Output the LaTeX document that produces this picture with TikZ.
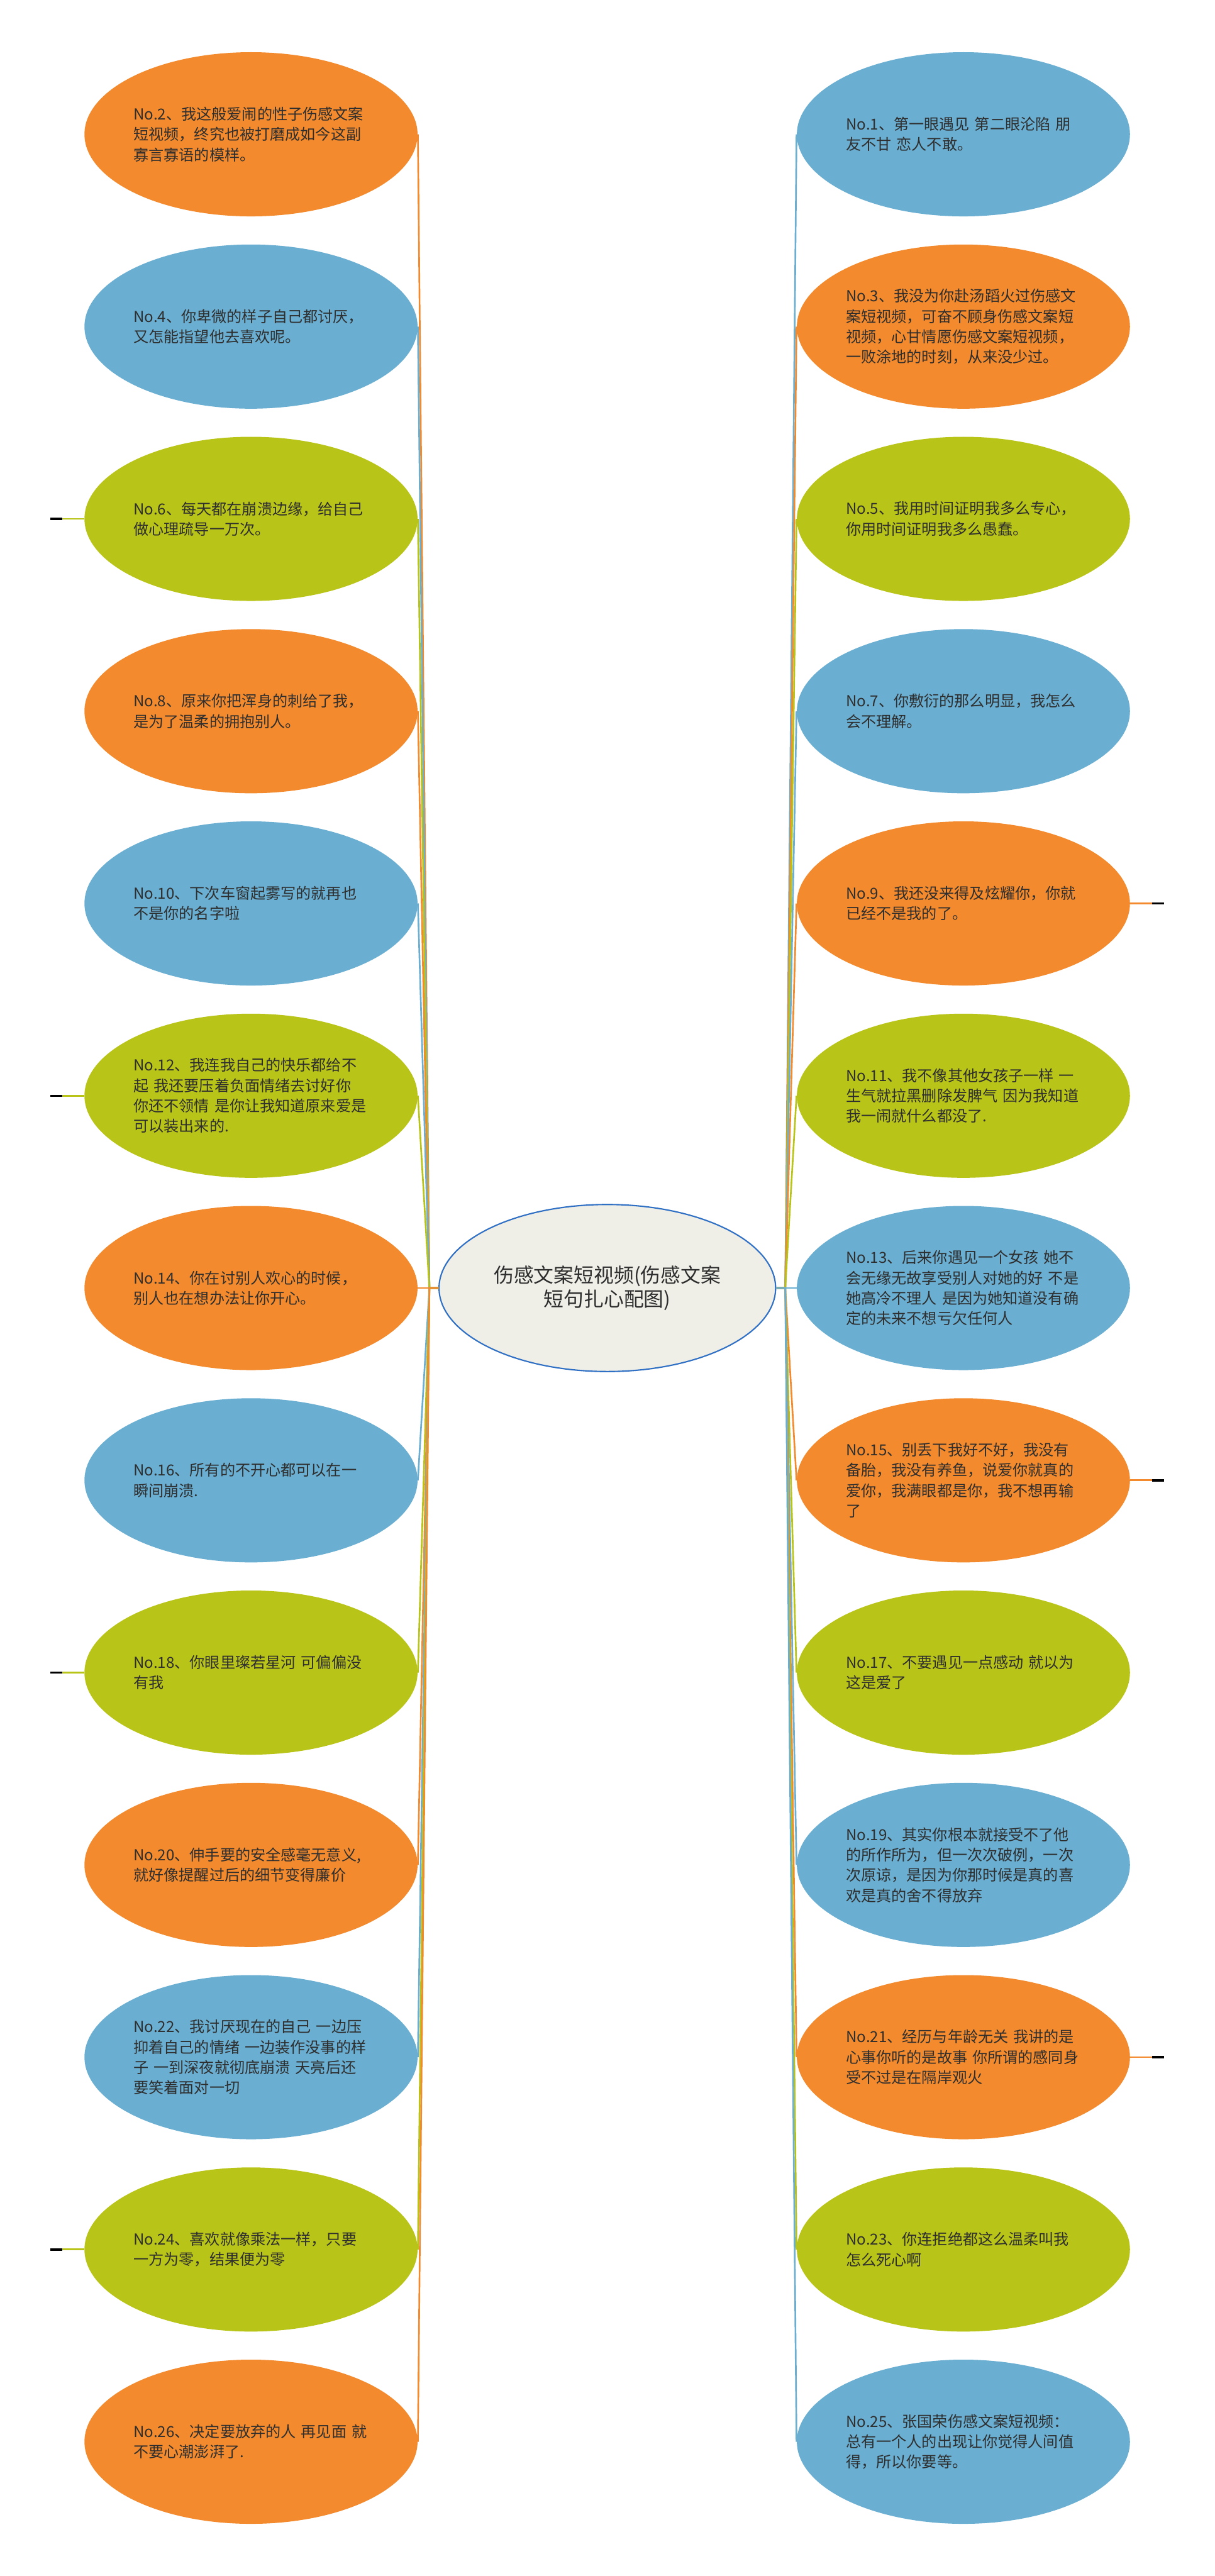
\documentclass[tikz,border=0pt]{standalone}
\usepackage{fontspec}
\newfontfamily\cjkfont{Noto Sans CJK SC}
\usetikzlibrary{shapes.geometric}
\definecolor{leaforange}{HTML}{F38A2D}
\definecolor{leafblue}{HTML}{6AAED1}
\definecolor{leafgreen}{HTML}{B9C419}
\definecolor{inktext}{HTML}{2E2E2E}
\definecolor{rootfill}{HTML}{EFEFE8}
\definecolor{rootline}{HTML}{3070C4}

\begin{document}
\begin{tikzpicture}[
    every node/.style={font=\cjkfont\fontsize{9.1pt}{12.2pt}\selectfont, text=inktext},
    leaf/.style={ellipse, minimum width=7.02cm, minimum height=3.46cm,
      inner sep=0pt, text width=4.95cm, align=left},
    link/.style={line width=1pt},
    stub/.style={line width=1.3pt, black}]
  \useasboundingbox (0,0) rectangle (25.6,-54.29);
  % centre
  \node[ellipse, draw=rootline, line width=0.8pt, fill=rootfill, minimum width=7.05cm,
    minimum height=3.52cm, align=center, font=\cjkfont\fontsize{12pt}{14.6pt}\selectfont]
    (root) at (12.8,-27.145) {伤感文案短视频(伤感文案\\短句扎心配图)};
  \coordinate (lj) at (9.05,-27.145); \coordinate (rj) at (16.55,-27.145);
  % left column
  \node[leaf, fill=leaforange] (n2) at (5.29,-2.83) {No.2、我这般爱闹的性子伤感文案\\短视频，终究也被打磨成如今这副\\寡言寡语的模样。};
  \node[leaf, fill=leafblue] (n4) at (5.29,-6.883) {No.4、你卑微的样子自己都讨厌，\\又怎能指望他去喜欢呢。};
  \node[leaf, fill=leafgreen] (n6) at (5.29,-10.935) {No.6、每天都在崩溃边缘，给自己\\做心理疏导一万次。};
  \node[leaf, fill=leaforange] (n8) at (5.29,-14.988) {No.8、原来你把浑身的刺给了我，\\是为了温柔的拥抱别人。};
  \node[leaf, fill=leafblue] (n10) at (5.29,-19.04) {No.10、下次车窗起雾写的就再也\\不是你的名字啦};
  \node[leaf, fill=leafgreen] (n12) at (5.29,-23.093) {No.12、我连我自己的快乐都给不\\起 我还要压着负面情绪去讨好你\\你还不领情 是你让我知道原来爱是\\可以装出来的.};
  \node[leaf, fill=leaforange] (n14) at (5.29,-27.145) {No.14、你在讨别人欢心的时候，\\别人也在想办法让你开心。};
  \node[leaf, fill=leafblue] (n16) at (5.29,-31.198) {No.16、所有的不开心都可以在一\\瞬间崩溃.};
  \node[leaf, fill=leafgreen] (n18) at (5.29,-35.25) {No.18、你眼里璨若星河 可偏偏没\\有我};
  \node[leaf, fill=leaforange] (n20) at (5.29,-39.303) {No.20、伸手要的安全感毫无意义,\\就好像提醒过后的细节变得廉价};
  \node[leaf, fill=leafblue] (n22) at (5.29,-43.355) {No.22、我讨厌现在的自己 一边压\\抑着自己的情绪 一边装作没事的样\\子 一到深夜就彻底崩溃 天亮后还\\要笑着面对一切};
  \node[leaf, fill=leafgreen] (n24) at (5.29,-47.408) {No.24、喜欢就像乘法一样，只要\\一方为零，结果便为零};
  \node[leaf, fill=leaforange] (n26) at (5.29,-51.46) {No.26、决定要放弃的人 再见面 就\\不要心潮澎湃了.};
  % right column
  \node[leaf, fill=leafblue] (n1) at (20.305,-2.83) {No.1、第一眼遇见 第二眼沦陷 朋\\友不甘 恋人不敢。};
  \node[leaf, fill=leaforange] (n3) at (20.305,-6.883) {No.3、我没为你赴汤蹈火过伤感文\\案短视频，可奋不顾身伤感文案短\\视频，心甘情愿伤感文案短视频，\\一败涂地的时刻，从来没少过。};
  \node[leaf, fill=leafgreen] (n5) at (20.305,-10.935) {No.5、我用时间证明我多么专心，\\你用时间证明我多么愚蠢。};
  \node[leaf, fill=leafblue] (n7) at (20.305,-14.988) {No.7、你敷衍的那么明显，我怎么\\会不理解。};
  \node[leaf, fill=leaforange] (n9) at (20.305,-19.04) {No.9、我还没来得及炫耀你，你就\\已经不是我的了。};
  \node[leaf, fill=leafgreen] (n11) at (20.305,-23.093) {No.11、我不像其他女孩子一样 一\\生气就拉黑删除发脾气 因为我知道\\我一闹就什么都没了.};
  \node[leaf, fill=leafblue] (n13) at (20.305,-27.145) {No.13、后来你遇见一个女孩 她不\\会无缘无故享受别人对她的好 不是\\她高冷不理人 是因为她知道没有确\\定的未来不想亏欠任何人};
  \node[leaf, fill=leaforange] (n15) at (20.305,-31.198) {No.15、别丢下我好不好，我没有\\备胎，我没有养鱼，说爱你就真的\\爱你，我满眼都是你，我不想再输\\了};
  \node[leaf, fill=leafgreen] (n17) at (20.305,-35.25) {No.17、不要遇见一点感动 就以为\\这是爱了};
  \node[leaf, fill=leafblue] (n19) at (20.305,-39.303) {No.19、其实你根本就接受不了他\\的所作所为，但一次次破例，一次\\次原谅，是因为你那时候是真的喜\\欢是真的舍不得放弃};
  \node[leaf, fill=leaforange] (n21) at (20.305,-43.355) {No.21、经历与年龄无关 我讲的是\\心事你听的是故事 你所谓的感同身\\受不过是在隔岸观火};
  \node[leaf, fill=leafgreen] (n23) at (20.305,-47.408) {No.23、你连拒绝都这么温柔叫我\\怎么死心啊};
  \node[leaf, fill=leafblue] (n25) at (20.305,-51.46) {No.25、张国荣伤感文案短视频：\\总有一个人的出现让你觉得人间值\\得，所以你要等。};
  % links, left
  \draw[link, leaforange] (root.west) -- (lj) -- (n2.east);
  \draw[link, leafblue] (root.west) -- (lj) -- (n4.east);
  \draw[link, leafgreen] (root.west) -- (lj) -- (n6.east);
  \draw[link, leaforange] (root.west) -- (lj) -- (n8.east);
  \draw[link, leafblue] (root.west) -- (lj) -- (n10.east);
  \draw[link, leafgreen] (root.west) -- (lj) -- (n12.east);
  \draw[link, leafblue] (root.west) -- (lj) -- (n16.east);
  \draw[link, leafgreen] (root.west) -- (lj) -- (n18.east);
  \draw[link, leaforange] (root.west) -- (lj) -- (n20.east);
  \draw[link, leafblue] (root.west) -- (lj) -- (n22.east);
  \draw[link, leafgreen] (root.west) -- (lj) -- (n24.east);
  \draw[link, leaforange] (root.west) -- (lj) -- (n26.east);
  \draw[link, leaforange] (root.west) -- (n14.east);
  % links, right
  \draw[link, leafblue] (root.east) -- (rj) -- (n1.west);
  \draw[link, leaforange] (root.east) -- (rj) -- (n3.west);
  \draw[link, leafgreen] (root.east) -- (rj) -- (n5.west);
  \draw[link, leafblue] (root.east) -- (rj) -- (n7.west);
  \draw[link, leaforange] (root.east) -- (rj) -- (n9.west);
  \draw[link, leafgreen] (root.east) -- (rj) -- (n11.west);
  \draw[link, leaforange] (root.east) -- (rj) -- (n15.west);
  \draw[link, leafgreen] (root.east) -- (rj) -- (n17.west);
  \draw[link, leafblue] (root.east) -- (rj) -- (n19.west);
  \draw[link, leaforange] (root.east) -- (rj) -- (n21.west);
  \draw[link, leafgreen] (root.east) -- (rj) -- (n23.west);
  \draw[link, leafblue] (root.east) -- (rj) -- (n25.west);
  \draw[link, leafblue] (root.east) -- (n13.west);
  % folded stubs
  \draw[link, leafgreen] (n6.west) -- ++(-0.46,0) coordinate (s6); \draw[stub] (s6) -- ++(-0.25,0);
  \draw[link, leafgreen] (n12.west) -- ++(-0.46,0) coordinate (s12); \draw[stub] (s12) -- ++(-0.25,0);
  \draw[link, leafgreen] (n18.west) -- ++(-0.46,0) coordinate (s18); \draw[stub] (s18) -- ++(-0.25,0);
  \draw[link, leafgreen] (n24.west) -- ++(-0.46,0) coordinate (s24); \draw[stub] (s24) -- ++(-0.25,0);
  \draw[link, leaforange] (n9.east) -- ++(0.46,0) coordinate (s9); \draw[stub] (s9) -- ++(0.25,0);
  \draw[link, leaforange] (n15.east) -- ++(0.46,0) coordinate (s15); \draw[stub] (s15) -- ++(0.25,0);
  \draw[link, leaforange] (n21.east) -- ++(0.46,0) coordinate (s21); \draw[stub] (s21) -- ++(0.25,0);
\end{tikzpicture}
\end{document}
